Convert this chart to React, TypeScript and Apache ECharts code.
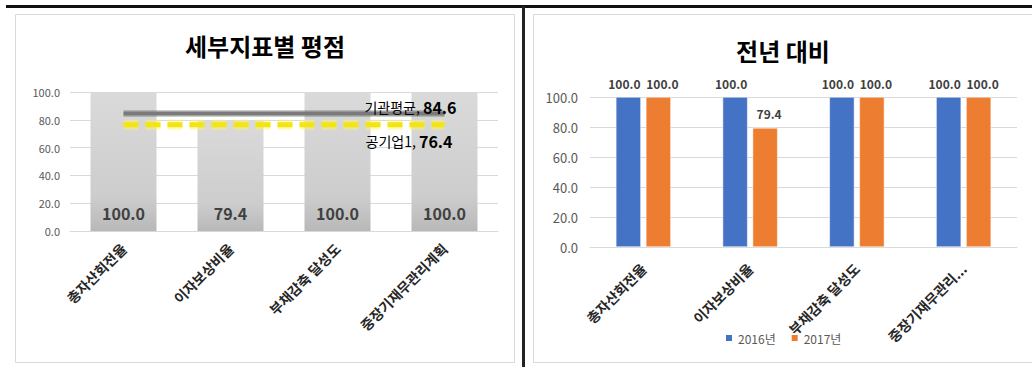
import React, { useEffect, useRef } from 'react';
import * as echarts from 'echarts';

const categories = ['총자산회전율', '이자보상비율', '부채감축 달성도', '중장기재무관리계획'];
const scores = [100, 79.4, 100, 100];
const orgAverage = [84.6, 84.6, 84.6, 84.6];
const company1 = [76.4, 76.4, 76.4, 76.4];
const year2016 = [100, 100, 100, 100];
const year2017 = [100, 79.4, 100, 100];
const leftTitle = '세부지표별 평점';
const rightTitle = '전년 대비';
const seriesNames = ['2016년', '2017년'];
const refNames = ['기관평균', '공기업1'];

const FONT = '"Noto Sans CJK KR", "Noto Sans", sans-serif';

function lastLabelData(arr: number[], label: any) {
  return arr.map((v, i) => (i === arr.length - 1 ? { value: v, label } : v));
}

export default function App() {
  const ref = useRef<HTMLDivElement>(null);
  useEffect(() => {
    if (!ref.current) return;
    const chart = echarts.init(ref.current, undefined, { renderer: 'svg' });
    const yAxisBase = (fontSize: number, margin: number) => ({
      type: 'value',
      min: 0,
      max: 100,
      interval: 20,
      axisLine: { show: false },
      axisTick: { show: false },
      axisLabel: {
        formatter: (v: number) => v.toFixed(1),
        color: '#595959',
        fontSize,
        fontFamily: FONT,
        margin,
      },
      splitLine: { lineStyle: { color: '#d9d9d9', width: 1 } },
    });
    const xAxisBase = (truncate: boolean, margin: number) => ({
      type: 'category',
      data: categories,
      axisLine: { lineStyle: { color: '#d9d9d9' } },
      axisTick: { show: false },
      axisLabel: {
        rotate: 45,
        interval: 0,
        fontSize: 14,
        fontWeight: 'bold',
        color: '#262626',
        fontFamily: FONT,
        margin,
        formatter: (v: string) => (truncate && v.length > 8 ? v.slice(0, 7) + '...' : v),
      },
    });
    const refLabelRich = {
      a: { fontSize: 14, color: '#000', fontFamily: FONT },
      b: { fontSize: 16, fontWeight: 'bold', color: '#000', fontFamily: FONT },
    };
    const refLabelFormatter = (p: any) => `{a|${p.seriesName}, }{b|${Number(p.value).toFixed(1)}}`;
    const barLabel = (dx: number) => ({
      show: true,
      position: 'top',
      distance: 8,
      offset: [dx, 0],
      formatter: (p: any) => Number(p.value).toFixed(1),
      fontSize: 12,
      fontWeight: 'bold',
      color: '#404040',
      fontFamily: FONT,
    });
    const option: any = {
      animation: false,
      textStyle: { fontFamily: FONT },
      graphic: [
        { type: 'rect', shape: { x: 6, y: 5, width: 1026, height: 3 }, style: { fill: '#111' } },
        { type: 'rect', shape: { x: 522, y: 6, width: 3, height: 361 }, style: { fill: '#222' } },
        { type: 'rect', shape: { x: 15.5, y: 14.5, width: 499, height: 348 }, style: { fill: 'none', stroke: '#d9d9d9', lineWidth: 1 } },
        { type: 'rect', shape: { x: 533.5, y: 14.5, width: 510, height: 348 }, style: { fill: 'none', stroke: '#d9d9d9', lineWidth: 1 } },
        { type: 'text', x: 265, y: 45, style: { text: leftTitle, fill: '#000', font: `bold 24px ${FONT}`, textAlign: 'center', textVerticalAlign: 'middle' } },
        { type: 'text', x: 783, y: 50, style: { text: rightTitle, fill: '#000', font: `bold 24px ${FONT}`, textAlign: 'center', textVerticalAlign: 'middle' } },
      ],
      grid: [
        { left: 70, top: 92, width: 428, height: 139 },
        { left: 590, top: 97, width: 427, height: 150 },
      ],
      xAxis: [
        { ...xAxisBase(false, 15), gridIndex: 0 },
        { ...xAxisBase(true, 19), gridIndex: 1 },
      ],
      yAxis: [
        { ...yAxisBase(11, 10), gridIndex: 0 },
        { ...yAxisBase(13, 12), gridIndex: 1 },
      ],
      legend: {
        data: seriesNames,
        left: 719,
        top: 327,
        itemWidth: 8,
        itemHeight: 8,
        itemGap: 14,
        icon: 'rect',
        textStyle: { color: '#595959', fontSize: 12, fontFamily: FONT },
      },
      series: [
        {
          name: '평점',
          type: 'bar',
          xAxisIndex: 0,
          yAxisIndex: 0,
          data: scores,
          barWidth: 66,
          itemStyle: {
            color: new echarts.graphic.LinearGradient(0, 0, 0, 1, [
              { offset: 0, color: '#dadada' },
              { offset: 0.75, color: '#cdcdcd' },
              { offset: 1, color: '#b8b8b8' },
            ]),
          },
          label: {
            show: true,
            position: 'insideBottom',
            distance: 10,
            formatter: (p: any) => Number(p.value).toFixed(1),
            fontSize: 16,
            fontWeight: 'bold',
            color: '#404040',
            fontFamily: FONT,
          },
          z: 2,
        },
        {
          name: refNames[0] + '_glow',
          type: 'line',
          xAxisIndex: 0,
          yAxisIndex: 0,
          data: orgAverage,
          symbol: 'none',
          silent: true,
          lineStyle: { color: 'rgba(90,90,90,0.3)', width: 7 },
          z: 3,
        },
        {
          name: refNames[0],
          type: 'line',
          xAxisIndex: 0,
          yAxisIndex: 0,
          data: lastLabelData(orgAverage, {
            show: true,
            position: 'top',
            distance: 1,
            align: 'right',
            offset: [12, 3],
            formatter: refLabelFormatter,
            rich: refLabelRich,
          }),
          symbol: 'circle',
          symbolSize: 1,
          showSymbol: true,
          itemStyle: { color: 'rgba(0,0,0,0)' },
          lineStyle: { color: '#7a7a7a', width: 4 },
          z: 4,
        },
        {
          name: refNames[1] + '_glow',
          type: 'line',
          xAxisIndex: 0,
          yAxisIndex: 0,
          data: company1,
          symbol: 'none',
          silent: true,
          lineStyle: { color: 'rgba(255,245,100,0.45)', width: 10, type: [15, 7] },
          z: 3,
        },
        {
          name: refNames[1],
          type: 'line',
          xAxisIndex: 0,
          yAxisIndex: 0,
          data: lastLabelData(company1, {
            show: true,
            position: 'bottom',
            distance: 6,
            align: 'right',
            offset: [8, 2],
            formatter: refLabelFormatter,
            rich: refLabelRich,
          }),
          symbol: 'circle',
          symbolSize: 1,
          showSymbol: true,
          itemStyle: { color: 'rgba(0,0,0,0)' },
          lineStyle: { color: '#f2e512', width: 5, type: [15, 7] },
          z: 4,
        },
        {
          name: seriesNames[0],
          type: 'bar',
          xAxisIndex: 1,
          yAxisIndex: 1,
          data: year2016,
          barWidth: 25,
          barGap: '20%',
          itemStyle: { color: '#4472c4', borderColor: '#ffffff', borderWidth: 0.5 },
          label: barLabel(-4),
        },
        {
          name: seriesNames[1],
          type: 'bar',
          xAxisIndex: 1,
          yAxisIndex: 1,
          data: year2017,
          barWidth: 25,
          barGap: '20%',
          itemStyle: { color: '#ed7d31', borderColor: '#ffffff', borderWidth: 0.5 },
          label: barLabel(4),
        },
      ],
    };
    chart.setOption(option);
    return () => chart.dispose();
  }, []);
  return (
    <div
      ref={ref}
      style={{ position: 'fixed', left: 0, top: 0, width: 1032, height: 367, background: '#fff' }}
    />
  );
}
